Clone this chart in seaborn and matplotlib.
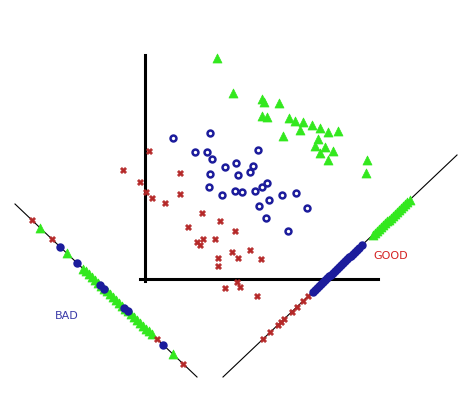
import numpy as np
import pandas as pd
import seaborn as sns
import matplotlib.pyplot as plt

# scatter values (pixel space, y down)
good_x = [217, 233, 262, 264, 262, 267, 279, 289, 295, 303, 312, 320, 300, 283,
          328, 338, 318, 315, 325, 333, 320, 328, 367, 366]
good_y = [58, 93, 99, 102, 116, 117, 103, 118, 121, 122, 125, 128, 130, 136,
          132, 131, 139, 146, 147, 151, 153, 160, 160, 173]

mid_x = [173, 210, 195, 207, 212, 258, 225, 236, 253, 250, 210, 238, 209, 222,
         235, 242, 255, 262, 267, 259, 269, 282, 296, 307, 266, 288]
mid_y = [138, 133, 152, 152, 159, 150, 167, 163, 166, 172, 174, 175, 187, 195,
         191, 192, 191, 187, 183, 206, 200, 195, 193, 208, 218, 231]

bad_x = [149, 123, 140, 146, 152, 165, 180, 180, 202, 220, 188, 235, 215, 197,
         200, 203, 232, 250, 218, 218, 238, 261, 237, 240, 225, 257]
bad_y = [151, 170, 182, 192, 198, 203, 173, 194, 213, 221, 227, 231, 239, 242,
         245, 239, 252, 250, 258, 266, 258, 259, 282, 287, 288, 296]

# where the points land on each projection line (x positions)
left_line_x = [15, 197]
left_line_y = [204, 377]
left_bad = [32, 52, 157, 183]
left_mid = [60, 77, 100, 104, 124, 128, 163]
left_good = [40, 67, 83, 86, 89, 92, 95, 98, 101, 104, 107, 110, 113, 116, 119,
             122, 125, 128, 131, 134, 137, 140, 143, 146, 149, 152, 173]

right_line_x = [223, 457]
right_line_y = [377, 155]
right_bad = [263, 270, 278, 281, 284, 292, 297, 303, 308]
right_mid = [313, 315, 317, 319, 321, 323, 325, 327, 329, 331, 333, 335, 337,
             339, 341, 343, 345, 347, 349, 351, 353, 355, 357, 359, 362]
right_good = [373, 375, 377, 379, 381, 383, 385, 387, 389, 391, 393, 395, 397,
              399, 401, 403, 405, 407, 410]

green = "#33e81e"
blue = "#1c1c9c"
red = "#b52828"

fig = plt.figure(figsize=(4.63, 4.04), dpi=100)
ax = fig.add_axes([0, 0, 1, 1])
ax.set_xlim(0, 463)
ax.set_ylim(404, 0)
ax.axis("off")

# axes of the 2d scatter
ax.plot([145, 145], [55, 281], color="black", lw=2.2)
ax.plot([140, 378], [279, 279], color="black", lw=2.2)

# projection lines
ax.plot(left_line_x, left_line_y, color="black", lw=0.8)
ax.plot(right_line_x, right_line_y, color="black", lw=0.8)


def on_line(xs, lx, ly):
    return np.interp(xs, lx, ly)


def draw(x, y, kind, filled=False):
    if kind == "good":
        sns.scatterplot(x=x, y=y, marker="^", s=42, color=green, edgecolor=green, ax=ax, zorder=3)
    elif kind == "mid":
        sns.scatterplot(x=x, y=y, marker="o", s=18, facecolor=blue if filled else "white",
                        edgecolor=blue, linewidth=1.8, ax=ax, zorder=3)
    else:
        sns.scatterplot(x=x, y=y, marker="X", s=20, color=red, edgecolor=red, ax=ax, zorder=3)


draw(good_x, good_y, "good")
draw(mid_x, mid_y, "mid")
draw(bad_x, bad_y, "bad")

draw(left_good, on_line(left_good, left_line_x, left_line_y), "good")
draw(left_mid, on_line(left_mid, left_line_x, left_line_y), "mid", filled=True)
draw(left_bad, on_line(left_bad, left_line_x, left_line_y), "bad")

draw(right_bad, on_line(right_bad, right_line_x, right_line_y), "bad")
draw(right_mid, on_line(right_mid, right_line_x, right_line_y), "mid", filled=True)
draw(right_good, on_line(right_good, right_line_x, right_line_y), "good")

ax.text(67, 316, "BAD", color="#3a3aa8", fontsize=8, ha="center", va="center")
ax.text(391, 256, "GOOD", color="#d42020", fontsize=8, ha="center", va="center")

fig.savefig("out.png", dpi=100)
